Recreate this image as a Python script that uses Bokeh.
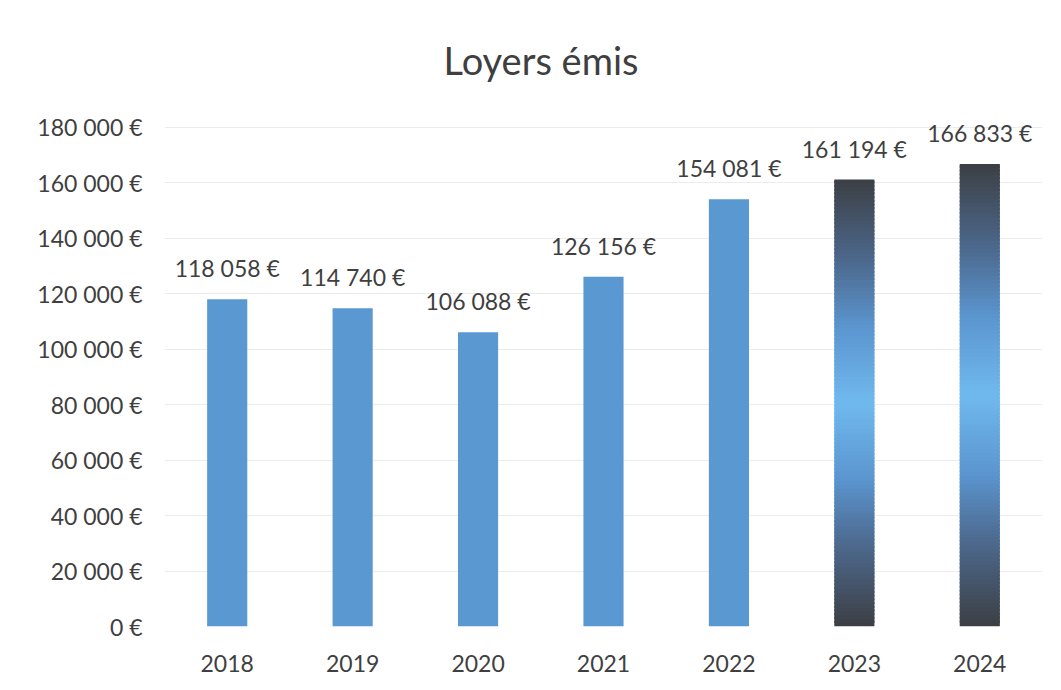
from bokeh.plotting import figure
from bokeh.models import Range1d, FactorRange, FixedTicker, ColumnDataSource
from bokeh.core.properties import value
from bokeh.embed import file_html
from bokeh.resources import INLINE

# ---- data ----
years = ["2018", "2019", "2020", "2021", "2022", "2023", "2024"]
rents = [118058, 114740, 106088, 126156, 154081, 161194, 166833]
gradient_bars = [False, False, False, False, False, True, True]
y_ticks = [0, 20000, 40000, 60000, 80000, 100000, 120000, 140000, 160000, 180000]
title_text = "Loyers émis"


def eur(v):
    return f"{v:,}".replace(",", " ") + " €"


FONT = "Lato"
TXT = "#3f3f3f"
BLUE = "#5a98d2"

p = figure(
    width=1061, height=690,
    x_range=FactorRange(*years),
    y_range=Range1d(0, 186100),
    output_backend="svg", toolbar_location=None,
    min_border_left=164, min_border_right=19,
    min_border_top=110, min_border_bottom=64,
)
p.outline_line_color = None
p.background_fill_color = "white"
p.border_fill_color = "white"

# title
p.title.text = title_text
p.title.text_font = FONT
p.title.text_font_size = "38px"
p.title.text_font_style = "normal"
p.title.text_color = TXT
p.title.align = "left"
p.title.offset = 279
p.title.standoff = 56

# plain bars
plain_x = [y for y, g in zip(years, gradient_bars) if not g]
plain_v = [v for v, g in zip(rents, gradient_bars) if not g]
p.vbar(x=plain_x, top=plain_v, width=0.32, fill_color=BLUE, line_color=None)

# gradient bars (dark at both ends, light blue in the middle)
stops = [(0.0, (0x3c, 0x3f, 0x44)), (0.18, (0x4c, 0x68, 0x8c)), (0.33, (0x5b, 0x95, 0xcf)),
         (0.5, (0x6f, 0xb9, 0xee)), (0.67, (0x5b, 0x95, 0xcf)), (0.82, (0x4c, 0x68, 0x8c)),
         (1.0, (0x3c, 0x3f, 0x44))]


def grad_color(t):
    for (t0, c0), (t1, c1) in zip(stops[:-1], stops[1:]):
        if t0 <= t <= t1:
            f = (t - t0) / (t1 - t0)
            c = [round(a + (b - a) * f) for a, b in zip(c0, c1)]
            return "#%02x%02x%02x" % tuple(c)
    return "#%02x%02x%02x" % stops[-1][1]


N = 120
gx, gb, gt, gc = [], [], [], []
for y, v, g in zip(years, rents, gradient_bars):
    if not g:
        continue
    for i in range(N):
        gx.append(y)
        gb.append(v * i / N)
        gt.append(min(v, v * (i + 1.6) / N))
        gc.append(grad_color((i + 0.5) / N))
p.vbar(x=gx, bottom=gb, top=gt, width=0.32, fill_color=gc, line_color=None)

# value labels
src = ColumnDataSource(dict(x=years, y=rents, t=[eur(v) for v in rents]))
p.text(x="x", y="y", text="t", source=src, text_align="center", text_baseline="bottom",
       y_offset=-17, text_font=value(FONT), text_font_size="23px", text_color=TXT)

# axes
p.yaxis.ticker = FixedTicker(ticks=y_ticks)
p.yaxis.major_label_overrides = {t: eur(t) for t in y_ticks}
p.yaxis.axis_line_color = None
p.yaxis.major_tick_line_color = None
p.yaxis.minor_tick_line_color = None
p.yaxis.major_tick_out = 0
p.yaxis.major_tick_in = 0
p.yaxis.minor_tick_out = 0
p.yaxis.major_label_standoff = 22
p.yaxis.major_label_text_font = FONT
p.yaxis.major_label_text_font_size = "23px"
p.yaxis.major_label_text_color = TXT

p.xaxis.axis_line_color = None
p.xaxis.major_tick_line_color = None
p.xaxis.major_tick_out = 0
p.xaxis.major_tick_in = 0
p.xaxis.major_label_standoff = 28
p.xaxis.major_label_text_font = FONT
p.xaxis.major_label_text_font_size = "23px"
p.xaxis.major_label_text_color = TXT

p.xgrid.grid_line_color = None
p.ygrid.grid_line_color = "#ececec"
p.ygrid.grid_line_width = 1

open("out.html", "w").write(file_html(p, INLINE))
